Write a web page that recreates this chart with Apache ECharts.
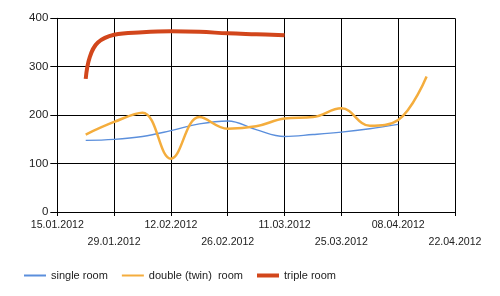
<!DOCTYPE html>
<html><head><meta charset="utf-8">
<script src="https://cdn.jsdelivr.net/npm/echarts@6/dist/echarts.min.js"></script>
<style>html,body{margin:0;padding:0;background:#fff}#c{width:500px;height:296px}</style>
</head><body><div id="c"></div>
<script>
const xTickLabels = ['15.01.2012','29.01.2012','12.02.2012','26.02.2012','11.03.2012','25.03.2012','08.04.2012','22.04.2012'];
const yTicks = [0,100,200,300,400];
const seriesNames = ['single room','double (twin)  room','triple room'];

const singleDates = ['22.01.2012','29.01.2012','05.02.2012','12.02.2012','19.02.2012','26.02.2012','04.03.2012','11.03.2012','18.03.2012','25.03.2012','01.04.2012','08.04.2012'];
const singleValues = [148,150,156,168,182,188,170,156,160,165,172,181];

const doubleDates = ['22.01.2012','29.01.2012','05.02.2012','12.02.2012','19.02.2012','26.02.2012','04.03.2012','11.03.2012','18.03.2012','25.03.2012','01.04.2012','08.04.2012','15.04.2012'];
const doubleValues = [160,186,205,110,196,172,177,193,196,214,178,190,280];

const tripleDates = ['22.01.2012','23.01.2012','25.01.2012','29.01.2012','05.02.2012','12.02.2012','19.02.2012','26.02.2012','04.03.2012','11.03.2012'];
const tripleValues = [275,320,350,366,371,373,372,369,367,365];

function dayOf(s){const p=s.split('.');return Date.UTC(+p[2],+p[1]-1,+p[0])/86400000;}
const day0 = dayOf(xTickLabels[0]);
const dayEnd = dayOf(xTickLabels[xTickLabels.length-1]);
const step = dayOf(xTickLabels[1]) - day0;
function pts(d,v){return d.map((s,i)=>[dayOf(s)-day0, v[i]]);}

const colors = ['#5b8fdc','#f4ad3d','#d2461b'];
const chart = echarts.init(document.getElementById('c'));
const font = 'Arial, "Liberation Sans", sans-serif';
chart.setOption({
  animation:false,
  grid:{left:57.3,right:45,top:18.3,bottom:84,containLabel:false},
  xAxis:{type:'value',min:0,max:dayEnd-day0,interval:step,
    axisLine:{show:true,lineStyle:{color:'#000',width:1}},
    axisTick:{show:true,length:4,lineStyle:{color:'#000'}},
    splitLine:{show:true,lineStyle:{color:'#000',width:1}},
    axisLabel:{color:'#222',fontFamily:font,fontSize:10.6,margin:5,lineHeight:16.5,
      showMinLabel:true,showMaxLabel:true,
      formatter:function(v){const i=Math.round(v/step);const t=xTickLabels[i]||'';return i%2?'\n'+t:t;}}
  },
  yAxis:{type:'value',min:yTicks[0],max:yTicks[yTicks.length-1],interval:yTicks[1]-yTicks[0],
    axisLine:{show:true,lineStyle:{color:'#000',width:1}},
    axisTick:{show:true,length:7,lineStyle:{color:'#000'}},
    splitLine:{show:true,lineStyle:{color:'#000',width:1}},
    axisLabel:{color:'#222',fontFamily:font,fontSize:11.5,margin:9}
  },
  legend:{left:19,top:265,itemWidth:22,itemHeight:14,itemGap:14,symbolKeepAspect:true,
    textStyle:{color:'#222',fontFamily:font,fontSize:11},
    data:[
      {name:seriesNames[0],icon:'path://M0,0H22V2H0Z'},
      {name:seriesNames[1],icon:'path://M0,0H22V2H0Z'},
      {name:seriesNames[2],icon:'path://M0,0H22V4H0Z'}
    ]},
  series:[
    {name:seriesNames[0],type:'line',smooth:0.4,showSymbol:false,symbol:'none',data:pts(singleDates,singleValues),
      lineStyle:{color:colors[0],width:1.4},itemStyle:{color:colors[0]}},
    {name:seriesNames[1],type:'line',smooth:0.4,showSymbol:false,symbol:'none',data:pts(doubleDates,doubleValues),
      lineStyle:{color:colors[1],width:2.5},itemStyle:{color:colors[1]}},
    {name:seriesNames[2],type:'line',smooth:0.4,showSymbol:false,symbol:'none',data:pts(tripleDates,tripleValues),
      lineStyle:{color:colors[2],width:4},itemStyle:{color:colors[2]}}
  ]
});
</script></body></html>
